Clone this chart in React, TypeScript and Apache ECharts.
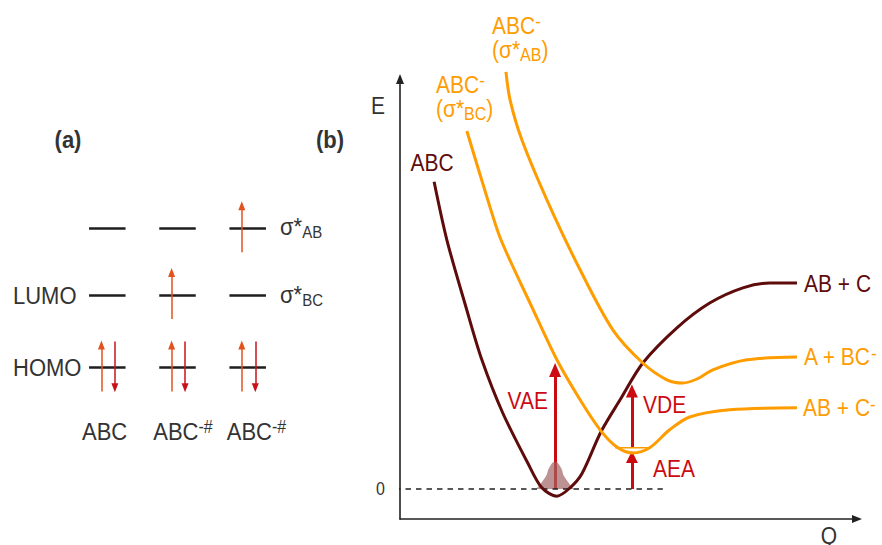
import React, { useEffect, useRef } from 'react';
import * as echarts from 'echarts';

const FONT = 'Liberation Sans, Arial, sans-serif';
const TEXT = '#333333';
const MAROON = '#5e0b0b';
const ORANGE = '#ff9c00';
const RED = '#cc0a12';
const SPIN_UP = '#e2521c';
const SPIN_DOWN = '#c8121a';

// ---------- Panel (a): orbital occupation diagram ----------
const orbitalColumns = [0, 1, 2];
const orbitalColumnLabels = ['ABC', 'ABC-#', 'ABC-#'];
const orbitalLevels = [0, 1, 1.92]; // HOMO, LUMO (σ*BC), σ*AB
const spinUpElectrons: number[][] = [[0, 0], [1, 0], [2, 0], [1, 1], [2, 2]]; // [column, level]
const spinDownElectrons: number[][] = [[0, 0], [1, 0], [2, 0]];

// ---------- Panel (b): potential energy curves [Q, E] ----------
const abcCurve = [[0.75, 7.68], [1.03, 6.23], [1.45, 4.55], [1.8, 3.23], [2.26, 1.9], [2.81, 0.65], [3.12, 0.03], [3.45, -0.18], [3.74, 0.03], [4.0, 0.38], [4.42, 1.43], [4.84, 2.23], [5.34, 3.15], [6.09, 4.03], [6.81, 4.65], [7.54, 5.03], [8.13, 5.15], [8.73, 5.15]];
const anionSigmaBCCurve = [[1.47, 8.95], [1.93, 7.23], [2.22, 6.23], [2.9, 4.55], [3.45, 3.23], [3.96, 2.23], [4.4, 1.48], [4.77, 1.05], [5.12, 0.9], [5.49, 1.03], [5.93, 1.48], [6.37, 1.8], [7.25, 1.98], [8.73, 2.03]];
const anionSigmaABCurve = [[2.33, 10.43], [2.42, 9.73], [2.68, 8.73], [3.23, 7.23], [3.96, 5.48], [4.68, 3.98], [5.34, 3.15], [5.87, 2.73], [6.22, 2.65], [6.53, 2.75], [6.88, 2.98], [7.63, 3.23], [8.73, 3.3]];
const groundWavepacket = [[2.99, 0], [3.2, 0.3], [3.29, 0.55], [3.41, 0.68], [3.53, 0.55], [3.62, 0.3], [3.82, 0]];
const zeroLine = [[-0.11, 0], [5.78, 0]];
const anionGroundLevel = [[4.73, 1.03], [5.49, 1.03]];
const vaeArrow = [[3.41, 0], [3.41, 2.975]];
const vdeArrow = [[5.1, 1.03], [5.1, 2.45]];
const aeaArrow = [[5.1, 0], [5.1, 0.8]];
const energyTickLabels = ['0'];

type TxtOpt = { color?: string; size?: number; bold?: boolean; align?: string; rich?: any };
const txt = (x: number, y: number, text: string, o: TxtOpt = {}) => ({
  type: 'text',
  x,
  y,
  scaleY: 1.1,
  silent: true,
  z: 100,
  style: {
    text,
    fill: o.color || TEXT,
    fontSize: o.size || 21,
    fontFamily: FONT,
    fontWeight: o.bold ? 'bold' : 'normal',
    align: o.align || 'center',
    textAlign: o.align || 'center',
    verticalAlign: 'middle',
    textVerticalAlign: 'middle',
    rich: o.rich,
  },
});

const richSet = (color: string, size: number) => ({
  m: { fontSize: size, fontFamily: FONT, fill: color, lineHeight: 24 },
  supLo: { fontSize: 17, fontFamily: FONT, fill: color, lineHeight: 14, verticalAlign: 'top' },
  supHi: { fontSize: 17, fontFamily: FONT, fill: color, lineHeight: 8, verticalAlign: 'top' },
  supCol: { fontSize: 16, fontFamily: FONT, fill: color, lineHeight: 16, verticalAlign: 'top' },
  sub: { fontSize: 15, fontFamily: FONT, fill: color, lineHeight: 6, verticalAlign: 'bottom' },
  sub2: { fontSize: 16, fontFamily: FONT, fill: color, lineHeight: 10, verticalAlign: 'bottom' },
});

export default function App() {
  const ref = useRef<HTMLDivElement>(null);
  useEffect(() => {
    document.body.style.margin = '0';
    if (!ref.current) return;
    const chart = echarts.init(ref.current, undefined, { renderer: 'svg' });

    const levelSegments = orbitalColumns.flatMap((c) =>
      orbitalLevels.map((lv) => ({ coords: [[c - 0.26, lv], [c + 0.26, lv]] }))
    );
    const upShafts = spinUpElectrons.map(([c, l]) => ({
      coords: [[orbitalColumns[c] - 0.084, orbitalLevels[l] - 0.33], [orbitalColumns[c] - 0.084, orbitalLevels[l] + 0.31]],
    }));
    const downShafts = spinDownElectrons.map(([c, l]) => ({
      coords: [[orbitalColumns[c] + 0.108, orbitalLevels[l] + 0.36], [orbitalColumns[c] + 0.108, orbitalLevels[l] - 0.28]],
    }));
    const upHeads = spinUpElectrons.map(([c, l]) => [orbitalColumns[c] - 0.084, orbitalLevels[l] + 0.31]);
    const downHeads = spinDownElectrons.map(([c, l]) => [orbitalColumns[c] + 0.108, orbitalLevels[l] - 0.28]);

    const rA = richSet(TEXT, 22);
    const rO = richSet(ORANGE, 21);
    const colX = [104.6, 183, 256.5];

    const graphics: any[] = [
      txt(68, 140, '(a)', { bold: true, size: 22 }),
      txt(330, 140, '(b)', { bold: true, size: 22 }),
      txt(13, 296, 'LUMO', { align: 'left', size: 22 }),
      txt(13, 368, 'HOMO', { align: 'left', size: 22 }),
      txt(280, 227, '{m|σ*}{sub|AB}', { align: 'left', rich: rA }),
      txt(280, 295, '{m|σ*}{sub|BC}', { align: 'left', rich: rA }),
      ...orbitalColumnLabels.map((lab, i) => {
        const parts = lab.split('-');
        const t = parts.length > 1 ? `{m|${parts[0]}}{supCol|-${parts[1]}}` : `{m|${lab}}`;
        return txt(colX[i], 432, t, { rich: rA });
      }),
      txt(378, 106, 'E'),
      txt(829, 536, 'Q'),
      txt(380.5, 489, energyTickLabels[0], { size: 16 }),
      txt(432, 163, 'ABC', { color: MAROON }),
      txt(436, 85, '{m|ABC}{supLo|-}', { align: 'left', rich: rO }),
      txt(436, 109.5, '{m|(σ*}{sub2|BC}{m|)}', { align: 'left', rich: rO }),
      txt(492, 26, '{m|ABC}{supLo|-}', { align: 'left', rich: rO }),
      txt(492, 50.5, '{m|(σ*}{sub2|AB}{m|)}', { align: 'left', rich: rO }),
      txt(804, 284, 'AB + C', { align: 'left', color: MAROON }),
      txt(804, 357.5, '{m|A + BC}{supHi|-}', { align: 'left', rich: rO }),
      txt(803, 408.5, '{m|AB + C}{supHi|-}', { align: 'left', rich: rO }),
      txt(548, 401.5, 'VAE', { align: 'right', color: RED }),
      txt(643, 405, 'VDE', { align: 'left', color: RED }),
      txt(653, 469, 'AEA', { align: 'left', color: RED }),
    ];

    const curve = (data: number[][], color: string) => ({
      type: 'line',
      xAxisIndex: 1,
      yAxisIndex: 1,
      data,
      smooth: 0.3,
      symbol: 'none',
      clip: false,
      silent: true,
      lineStyle: { color, width: 3 },
    });

    const option: any = {
      animation: false,
      backgroundColor: '#ffffff',
      grid: [
        { left: 37.1, top: 150, width: 280.8, height: 290 },
        { left: 400, top: 79, width: 457, height: 440 },
      ],
      xAxis: [
        { gridIndex: 0, type: 'value', min: -1, max: 3, show: false },
        {
          gridIndex: 1,
          type: 'value',
          min: 0,
          max: 10.05,
          axisLine: { show: true, onZero: false, symbol: ['none', 'triangle'], symbolSize: [8, 10], lineStyle: { color: '#222', width: 1.6 } },
          axisTick: { show: false },
          axisLabel: { show: false },
          splitLine: { show: false },
        },
      ],
      yAxis: [
        { gridIndex: 0, type: 'value', min: -1, max: 3, show: false },
        {
          gridIndex: 1,
          type: 'value',
          min: -0.75,
          max: 10.25,
          axisLine: { show: true, onZero: false, symbol: ['none', 'triangle'], symbolSize: [8, 10], lineStyle: { color: '#222', width: 1.6 } },
          axisTick: { show: false },
          splitLine: { show: false },
          axisLabel: { show: false },
        },
      ],
      graphic: graphics,
      series: [
        // panel (a)
        {
          type: 'lines', coordinateSystem: 'cartesian2d', xAxisIndex: 0, yAxisIndex: 0, silent: true,
          data: levelSegments, symbol: 'none', lineStyle: { color: '#1e1e1e', width: 2.5, opacity: 1 },
        },
        {
          type: 'lines', coordinateSystem: 'cartesian2d', xAxisIndex: 0, yAxisIndex: 0, silent: true,
          data: upShafts, symbol: 'none', lineStyle: { color: SPIN_UP, width: 1.5, opacity: 1 },
        },
        {
          type: 'lines', coordinateSystem: 'cartesian2d', xAxisIndex: 0, yAxisIndex: 0, silent: true,
          data: downShafts, symbol: 'none', lineStyle: { color: SPIN_DOWN, width: 1.5, opacity: 1 },
        },
        {
          type: 'scatter', xAxisIndex: 0, yAxisIndex: 0, silent: true, data: upHeads,
          symbol: 'triangle', symbolSize: [7, 9], itemStyle: { color: SPIN_UP, opacity: 1 },
        },
        {
          type: 'scatter', xAxisIndex: 0, yAxisIndex: 0, silent: true, data: downHeads,
          symbol: 'triangle', symbolRotate: 180, symbolSize: [7, 9], itemStyle: { color: SPIN_DOWN, opacity: 1 },
        },
        // panel (b)
        {
          type: 'line', xAxisIndex: 1, yAxisIndex: 1, data: zeroLine, symbol: 'none', clip: false, silent: true,
          lineStyle: { color: '#222', width: 1.5, type: [5.5, 5] },
        },
        {
          type: 'line', xAxisIndex: 1, yAxisIndex: 1, data: groundWavepacket, smooth: 0.5, symbol: 'none', silent: true,
          lineStyle: { width: 0 }, areaStyle: { color: 'rgba(160,100,100,0.7)', origin: 'auto', opacity: 1 },
        },
        curve(abcCurve, MAROON),
        curve(anionSigmaBCCurve, ORANGE),
        curve(anionSigmaABCurve, ORANGE),
        {
          type: 'line', xAxisIndex: 1, yAxisIndex: 1, data: anionGroundLevel, symbol: 'none', silent: true,
          lineStyle: { color: ORANGE, width: 1.5 },
        },
        {
          type: 'lines', coordinateSystem: 'cartesian2d', xAxisIndex: 1, yAxisIndex: 1, silent: true,
          data: [{ coords: vaeArrow }, { coords: vdeArrow }, { coords: aeaArrow }],
          symbol: 'none', lineStyle: { color: RED, width: 3, opacity: 1 },
        },
        {
          type: 'scatter', xAxisIndex: 1, yAxisIndex: 1, silent: true,
          data: [
            { value: vaeArrow[1], symbolSize: [12, 14] },
            { value: vdeArrow[1], symbolSize: [12, 13] },
            { value: aeaArrow[1], symbolSize: [12, 12] },
          ],
          symbol: 'triangle', itemStyle: { color: RED, opacity: 1 },
        },
      ],
    };
    chart.setOption(option);
    return () => chart.dispose();
  }, []);
  return <div ref={ref} style={{ width: 882, height: 545 }} />;
}
